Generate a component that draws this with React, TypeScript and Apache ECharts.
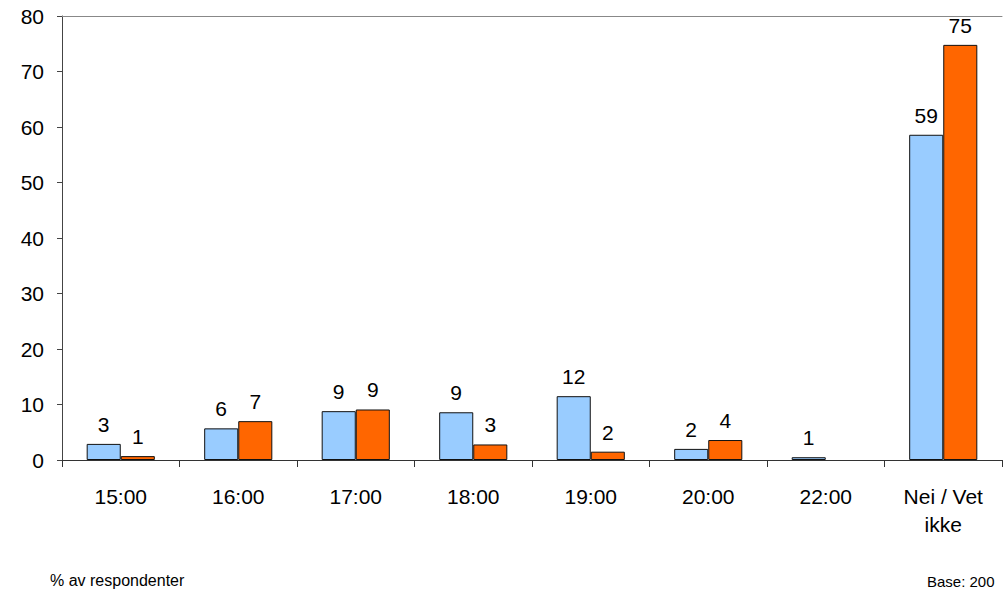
import React, { useEffect, useRef } from "react";
import * as echarts from "echarts";

const categories = ["15:00", "16:00", "17:00", "18:00", "19:00", "20:00", "22:00", "Nei / Vet\nikke"];
const seriesA = [2.9, 5.7, 8.8, 8.6, 11.5, 2.0, 0.5, 58.6];
const seriesB = [0.7, 7.0, 9.1, 2.8, 1.5, 3.6, null, 74.8];
const yTicks = { min: 0, max: 80, interval: 10 };
const footLeft = "% av respondenter";
const footRight = "Base: 200";

export default function App() {
  const ref = useRef<HTMLDivElement>(null);
  useEffect(() => {
    if (!ref.current) return;
    const chart = echarts.init(ref.current, null, { renderer: "svg" });
    const font = "'Liberation Sans', Arial, sans-serif";
    const label = {
      show: true,
      position: "top",
      distance: 9,
      fontSize: 21,
      fontFamily: font,
      color: "#000",
      formatter: (p: any) => (p.value != null ? String(Math.round(p.value)) : ""),
    };
    chart.setOption({
      animation: false,
      backgroundColor: "#fff",
      grid: { left: 62, top: 16, right: 1, bottom: 131, containLabel: false },
      xAxis: [
        {
          type: "category",
          data: categories,
          boundaryGap: true,
          axisLine: { lineStyle: { color: "#333", width: 1 } },
          axisTick: { show: true, length: 7, lineStyle: { color: "#333" } },
          axisLabel: {
            fontSize: 21,
            fontFamily: font,
            color: "#000",
            margin: 22,
            lineHeight: 28,
            interval: 0,
          },
        },
        {
          type: "category",
          position: "top",
          data: categories,
          axisLine: { show: true, lineStyle: { color: "#888" } },
          axisTick: { show: false },
          axisLabel: { show: false },
        },
      ],
      yAxis: {
        type: "value",
        min: yTicks.min,
        max: yTicks.max,
        interval: yTicks.interval,
        axisLine: { show: true, lineStyle: { color: "#444" } },
        axisTick: { show: true, length: 5, lineStyle: { color: "#444" } },
        splitLine: { show: false },
        axisLabel: { fontSize: 21, fontFamily: font, color: "#000", margin: 18 },
      },
      series: [
        {
          type: "bar",
          data: seriesA,
          barGap: "0%",
          barCategoryGap: "42%",
          itemStyle: { color: "#99CCFF", borderColor: "#111", borderWidth: 1 },
          label,
        },
        {
          type: "bar",
          data: seriesB,
          barGap: "0%",
          barCategoryGap: "42%",
          itemStyle: { color: "#FF6600", borderColor: "#111", borderWidth: 1 },
          label,
        },
      ],
      graphic: [
        {
          type: "text",
          left: 50,
          top: 572,
          style: { text: footLeft, fontSize: 16, fontFamily: font, fill: "#000" },
        },
        {
          type: "text",
          left: 927,
          top: 574,
          style: { text: footRight, fontSize: 15, fontFamily: font, fill: "#000" },
        },
      ],
    });
    return () => chart.dispose();
  }, []);
  return (
    <div
      ref={ref}
      style={{ position: "fixed", left: 0, top: 0, width: 1003, height: 591 }}
    />
  );
}
